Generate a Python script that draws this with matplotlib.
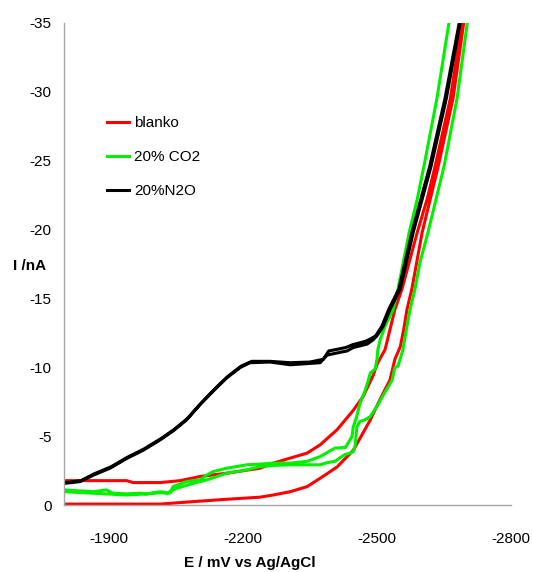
import matplotlib
matplotlib.use("Agg")
import matplotlib.pyplot as plt

plt.rcParams['font.family'] = ['Liberation Sans', 'DejaVu Sans']

# ---- data (E in mV vs Ag/AgCl, I in nA) ----
blanko_fwd_E = [-1800, -1940, -2015, -2089, -2164, -2238, -2268, -2306, -2344, -2379, -2411,
                -2447, -2485, -2507, -2529, -2540, -2552, -2560, -2567, -2578, -2601, -2619,
                -2637, -2670, -2694, -2697]
blanko_fwd_I = [-0.1, -0.1, -0.1, -0.28, -0.45, -0.6, -0.76, -1.0, -1.37, -2.1, -2.8,
                -4.0, -6.2, -7.7, -9.1, -10.6, -11.5, -12.8, -14.2, -15.7, -19.8, -22.2,
                -24.6, -29.5, -35.0, -36.0]
blanko_rev_E = [-2692, -2690, -2664, -2630, -2612, -2590, -2556, -2540, -2518, -2501,
                -2491, -2469, -2447, -2411, -2373, -2344, -2268, -2238, -2164, -2104, -2060,
                -2015, -1955, -1940, -1800]
blanko_rev_I = [-36.0, -35.0, -29.5, -24.6, -22.2, -19.8, -15.7, -14.2, -11.3, -10.3,
                -9.4, -7.9, -6.9, -5.5, -4.4, -3.8, -3.07, -2.7, -2.34, -2.1, -1.8,
                -1.66, -1.66, -1.8, -1.8]

co2_fwd_E = [-1800, -1895, -1940, -1985, -2015, -2030, -2052, -2089, -2119, -2164, -2209,
             -2238, -2268, -2306, -2373, -2388, -2406, -2417, -2429, -2440, -2447, -2451,
             -2455, -2462, -2473, -2485, -2500, -2514, -2525, -2534, -2540, -2547, -2558,
             -2566, -2574, -2585, -2596, -2614, -2632, -2650, -2679, -2702, -2705]
co2_fwd_I = [-1.0, -0.84, -0.76, -0.84, -0.93, -0.89, -1.25, -1.6, -1.85, -2.34, -2.58,
             -2.82, -2.9, -2.95, -2.95, -3.1, -3.2, -3.45, -3.7, -3.8, -3.9, -4.3,
             -5.7, -6.1, -6.2, -6.45, -7.2, -8.0, -8.6, -9.1, -10.0, -10.1, -11.3,
             -12.8, -14.2, -15.7, -17.6, -19.8, -22.2, -24.6, -29.5, -35.0, -36.0]
co2_rev_E = [-2664, -2661, -2634, -2605, -2590, -2572, -2547, -2536, -2518, -2507, -2502,
             -2500, -2496, -2485, -2480, -2473, -2462, -2455, -2447, -2444, -2435, -2429,
             -2406, -2373, -2344, -2306, -2268, -2238, -2209, -2164, -2134, -2119, -2104,
             -2074, -2044, -2037, -2015, -1985, -1970, -1940, -1910, -1895, -1865, -1800]
co2_rev_I = [-36.0, -35.0, -29.5, -24.6, -22.2, -19.8, -15.7, -14.2, -13.0, -12.0, -11.3,
             -10.6, -9.9, -9.6, -9.0, -8.3, -7.4, -6.5, -5.7, -5.0, -4.5, -4.2,
             -4.16, -3.55, -3.2, -3.07, -3.07, -3.0, -2.95, -2.7, -2.46, -2.2, -1.85,
             -1.73, -1.37, -0.89, -1.0, -0.84, -0.89, -0.84, -0.89, -1.13, -1.0, -1.13]

n2o_fwd_E = [-1800, -1836, -1866, -1903, -1940, -1977, -2015, -2044, -2074, -2104, -2134,
             -2164, -2194, -2216, -2261, -2306, -2373, -2388, -2417, -2433, -2447, -2478,
             -2491, -2500, -2514, -2529, -2552, -2581, -2601, -2621, -2655, -2686, -2689]
n2o_fwd_I = [-1.6, -1.73, -2.2, -2.7, -3.4, -4.0, -4.75, -5.4, -6.2, -7.3, -8.3,
             -9.25, -10.0, -10.35, -10.4, -10.2, -10.35, -10.9, -11.1, -11.2, -11.45, -11.7,
             -12.0, -12.3, -13.0, -14.2, -15.7, -19.8, -22.2, -24.6, -29.5, -35.0, -36.0]
n2o_rev_E = [-2687, -2684, -2652, -2618, -2598, -2578, -2549, -2526, -2511, -2497, -2487,
             -2474, -2445, -2430, -2415, -2392, -2380, -2350, -2306, -2261, -2220, -2196,
             -2166, -2136, -2106, -2076, -2046, -2017, -1979, -1942, -1905, -1868, -1838,
             -1800]
n2o_rev_I = [-36.0, -35.0, -29.5, -24.6, -22.2, -19.8, -15.7, -14.2, -13.0, -12.3, -12.1,
             -11.9, -11.65, -11.45, -11.35, -11.2, -10.6, -10.4, -10.35, -10.45, -10.45, -10.1,
             -9.35, -8.4, -7.4, -6.3, -5.5, -4.85, -4.1, -3.5, -2.8, -2.3, -1.8,
             -1.65]

series = [
    ("blanko", "#FF0000", blanko_fwd_E, blanko_fwd_I, blanko_rev_E, blanko_rev_I),
    ("20% CO2", "#00F000", co2_fwd_E, co2_fwd_I, co2_rev_E, co2_rev_I),
    ("20%N2O", "#000000", n2o_fwd_E, n2o_fwd_I, n2o_rev_E, n2o_rev_I),
]

x_ticks = [-1900, -2200, -2500, -2800]
y_ticks = [0, -5, -10, -15, -20, -25, -30, -35]

fig = plt.figure(figsize=(5.33, 5.72), dpi=100)
ax = fig.add_axes([0.120, 0.1163, 0.839, 0.844])

for name, col, fe, fi, re_, ri in series:
    ax.plot(fe + re_, fi + ri, color=col, lw=2.2, label=name, solid_joinstyle='round')

ax.set_xlim(-1800, -2800)
ax.set_ylim(0, -35)
ax.set_xticks(x_ticks)
ax.set_xticklabels([str(v) for v in x_ticks])
ax.set_yticks(y_ticks)
ax.set_yticklabels([str(v) for v in y_ticks])
ax.tick_params(axis='both', length=0, labelsize=11)
ax.tick_params(axis='x', pad=19)
ax.tick_params(axis='y', pad=9)
for s in ['top', 'right']:
    ax.spines[s].set_visible(False)
for s in ['left', 'bottom']:
    ax.spines[s].set_color('#A6A6A6')
    ax.spines[s].set_linewidth(1.0)

ax.text(-0.078, 0.497, "I /nA", transform=ax.transAxes, ha='center', va='center',
        fontsize=11, fontweight='bold')
ax.text(0.416, -0.119, "E / mV vs Ag/AgCl", transform=ax.transAxes, ha='center',
        va='center', fontsize=11, fontweight='bold')

ax.legend(loc='upper left', bbox_to_anchor=(0.096, 0.807), frameon=False, fontsize=11,
          handlelength=1.45, handletextpad=0.35, labelspacing=1.31, borderpad=0,
          borderaxespad=0)

fig.savefig("out.png", dpi=100)
